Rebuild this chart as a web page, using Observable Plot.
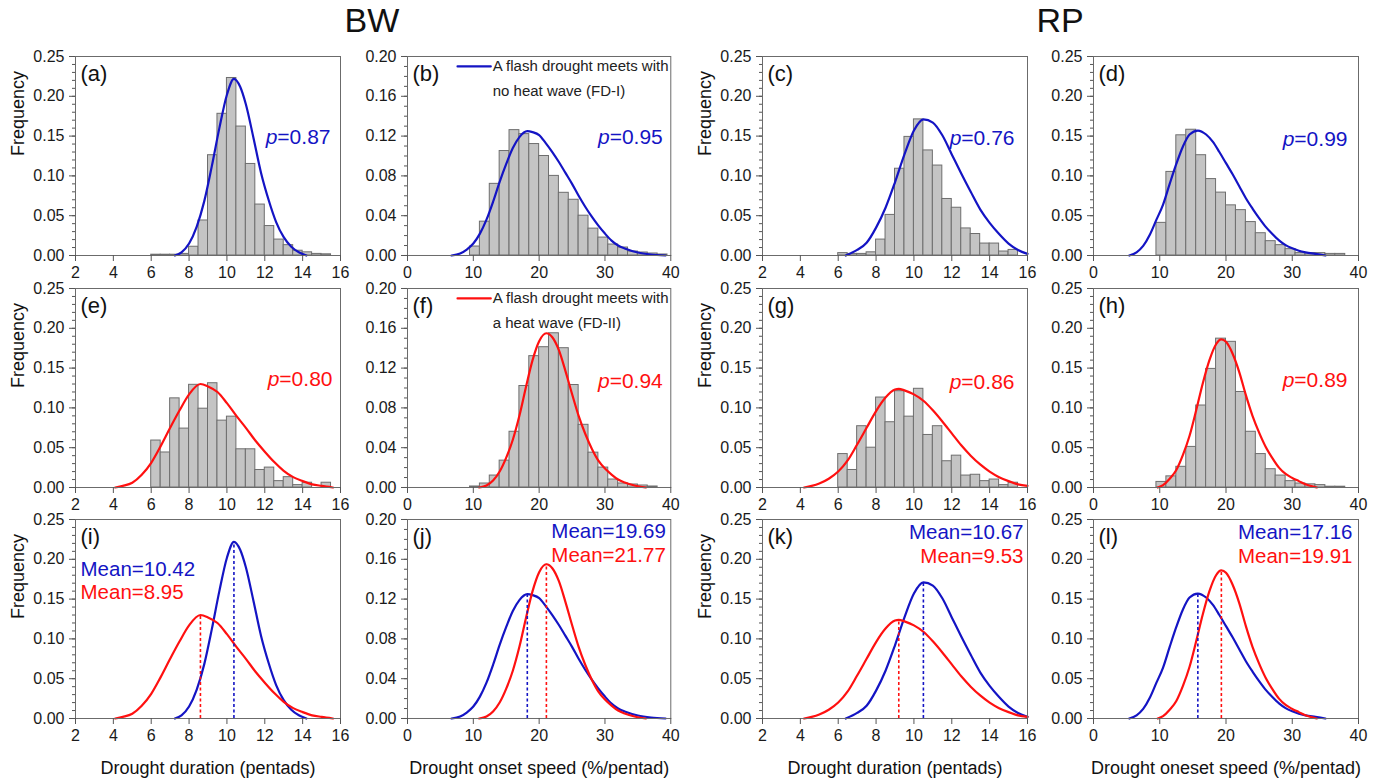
<!DOCTYPE html>
<html><head><meta charset="utf-8">
<script src="https://cdn.jsdelivr.net/npm/d3@7"></script>
<script src="https://cdn.jsdelivr.net/npm/@observablehq/plot@0.6"></script>
<style>
body{margin:0;background:#fff;}
#wrap{position:relative;width:1385px;height:780px;overflow:hidden;font-family:Arial,"Liberation Sans",sans-serif;background:#fff;}
.ttl{position:absolute;font-size:34px;color:#111;transform:translateX(-50%);top:3px;line-height:1;}
</style></head><body><div id="wrap">
<div class="ttl" style="left:372px">BW</div>
<div class="ttl" style="left:1060px">RP</div>
</div>
<script>
// ---------- data ----------
const durDomain = [2, 16];
const durTicks = [2, 4, 6, 8, 10, 12, 14, 16];
const speedDomain = [0, 40];
const speedTicks = [0, 10, 20, 30, 40];
const yTicks25 = [0, 0.05, 0.10, 0.15, 0.20, 0.25];
const yTicks20 = [0, 0.04, 0.08, 0.12, 0.16, 0.20];

const durBinStart = 6.0, durBinWidth = 0.5;
const speedBinStart = 9.5, speedBinWidth = 1.5;

const histA = [0.001,0.001,0.001,0.002,0.011,0.044,0.126,0.178,0.223,0.162,0.115,0.064,0.037,0.020,0.013,0.006,0.004,0.002,0.0015];
const histB = [0.009,0.034,0.072,0.105,0.126,0.122,0.112,0.100,0.080,0.063,0.056,0.040,0.027,0.018,0.011,0.008,0.004,0.003,0.002,0.001];
const histC = [0.003,0.002,0.002,0.004,0.020,0.051,0.109,0.149,0.171,0.132,0.113,0.071,0.060,0.034,0.027,0.015,0.015,0.005,0.007];
const histD = [0.041,0.105,0.151,0.158,0.126,0.096,0.079,0.063,0.057,0.042,0.028,0.018,0.013,0.008,0.003,0.003,0.003,0.002,0.002];
const histE = [0.059,0.044,0.112,0.074,0.129,0.099,0.131,0.084,0.089,0.048,0.048,0.022,0.025,0.008,0.013,0.003,0.006,0,0.006];
const histF = [0.001,0.004,0.012,0.027,0.056,0.102,0.132,0.141,0.155,0.140,0.103,0.063,0.035,0.020,0.008,0.004,0.003,0.002,0.001];
const histG = [0.042,0.022,0.077,0.050,0.113,0.082,0.121,0.089,0.124,0.066,0.077,0.033,0.040,0.015,0.016,0.008,0.010,0.003,0.006];
const histH = [0.007,0.014,0.026,0.051,0.103,0.149,0.187,0.183,0.120,0.070,0.042,0.023,0.015,0.008,0.005,0.004,0.003,0.001,0.001];

// fitted curves: [x, frequency]
const fitA = [[7.25,0],[7.6,0.004],[8.0,0.015],[8.4,0.036],[8.8,0.068],[9.2,0.112],[9.6,0.160],[10.0,0.202],[10.37,0.222],[10.7,0.212],[11.0,0.190],[11.4,0.148],[11.8,0.104],[12.2,0.070],[12.6,0.042],[13.0,0.023],[13.4,0.011],[13.8,0.004],[14.2,0]];
const fitB = [[6.7,0],[8,0.002],[9,0.006],[10,0.012],[11,0.022],[12,0.036],[13,0.054],[14,0.074],[15,0.092],[16,0.108],[17,0.119],[18.2,0.125],[19,0.124],[20,0.121],[21,0.113],[22,0.104],[23,0.094],[24,0.083],[25,0.072],[26,0.060],[27,0.049],[28,0.039],[29,0.030],[30,0.022],[31,0.015],[32,0.010],[33,0.007],[35,0.003],[37,0.001],[39.2,0]];
const fitC = [[6.4,0],[7.0,0.007],[7.5,0.016],[8.0,0.035],[8.5,0.060],[9.0,0.092],[9.5,0.127],[10.0,0.157],[10.5,0.171],[11.0,0.167],[11.5,0.151],[12.0,0.127],[12.5,0.103],[13.0,0.080],[13.5,0.058],[14.0,0.041],[14.5,0.027],[15.0,0.015],[15.5,0.007],[16.0,0.002]];
const fitD = [[5.4,0],[6.5,0.004],[7.5,0.012],[8.5,0.026],[9.5,0.045],[10.5,0.064],[11.5,0.090],[12.5,0.115],[13.5,0.137],[14.5,0.152],[15.75,0.157],[17,0.152],[18,0.143],[19,0.130],[20,0.116],[21,0.102],[22,0.087],[23,0.072],[24,0.059],[25,0.047],[26,0.036],[27,0.027],[28,0.019],[29,0.013],[30,0.009],[31,0.006],[32,0.004],[33.5,0.002],[35,0]];
const fitE = [[4.1,0],[4.5,0.002],[5.0,0.006],[5.5,0.016],[6.0,0.031],[6.5,0.052],[7.0,0.075],[7.5,0.097],[8.0,0.117],[8.6,0.130],[9.0,0.127],[9.5,0.120],[10.0,0.106],[10.5,0.090],[11.0,0.075],[11.5,0.059],[12.0,0.045],[12.5,0.032],[13.0,0.021],[13.5,0.013],[14.0,0.008],[14.5,0.004],[15.0,0.002],[15.6,0]];
const fitF = [[10.9,0],[12,0.002],[13,0.007],[14,0.016],[15,0.030],[16,0.048],[17,0.072],[18,0.101],[19,0.128],[20,0.147],[21.1,0.155],[22,0.151],[23,0.138],[24,0.117],[25,0.094],[26,0.072],[27,0.054],[28,0.039],[29,0.027],[30,0.019],[31,0.013],[32,0.008],[33,0.005],[34.5,0.002],[36.2,0]];
const fitG = [[4.2,0],[4.6,0.002],[5.0,0.005],[5.5,0.011],[6.0,0.020],[6.5,0.034],[7.0,0.054],[7.5,0.075],[8.0,0.096],[8.5,0.113],[9.0,0.123],[9.2,0.124],[9.5,0.122],[10.0,0.117],[10.5,0.109],[11.0,0.097],[11.5,0.083],[12.0,0.068],[12.5,0.053],[13.0,0.040],[13.5,0.029],[14.0,0.020],[14.5,0.013],[15.0,0.008],[15.5,0.004],[16.0,0.002]];
const fitH = [[9.7,0],[10.5,0.003],[11.5,0.011],[12.5,0.022],[13.5,0.041],[14.5,0.065],[15.5,0.097],[16.5,0.131],[17.5,0.160],[18.5,0.180],[19.3,0.186],[20,0.183],[21,0.168],[22,0.145],[23,0.116],[24,0.090],[25,0.069],[26,0.051],[27,0.037],[28,0.025],[29,0.017],[30,0.012],[31,0.008],[32,0.004],[33.7,0]];

const pValues = ["0.87","0.95","0.76","0.99","0.80","0.94","0.86","0.89"];
const meanValues = ["10.42","8.95","19.69","21.77","10.67","9.53","17.16","19.91"];
const legendFD1 = ["A flash drought meets with", "no heat wave (FD-I)"];
const legendFD2 = ["A flash drought meets with", "a heat wave (FD-II)"];
const xTitles = ["Drought duration (pentads)", "Drought onset speed (%/pentad)", "Drought duration (pentads)", "Drought oneset speed (%/pentad)"];

// ---------- layout ----------
const BLUE = "#1414c4", RED = "#ff1010";
const colLeft = [75, 406.7, 761.7, 1093.3];
const colRight = [340, 670, 1026.7, 1358.3];
const rowTop = [56, 287.7, 519.3];
const rowBottom = [255, 486.7, 718.3];

const panels = [
  {id:"(a)", col:0, row:0, kind:"dur", yMax:0.25, hist:histA, fits:[[fitA,BLUE]], p:pValues[0], pc:BLUE, pdx:-10, pdy:81},
  {id:"(b)", col:1, row:0, kind:"speed", yMax:0.20, hist:histB, fits:[[fitB,BLUE]], p:pValues[1], pc:BLUE, pdx:-8, pdy:81, legend:legendFD1, lc:BLUE},
  {id:"(c)", col:2, row:0, kind:"dur", yMax:0.25, hist:histC, fits:[[fitC,BLUE]], p:pValues[2], pc:BLUE, pdx:-13, pdy:82},
  {id:"(d)", col:3, row:0, kind:"speed", yMax:0.25, hist:histD, fits:[[fitD,BLUE]], p:pValues[3], pc:BLUE, pdx:-11, pdy:83},
  {id:"(e)", col:0, row:1, kind:"dur", yMax:0.25, hist:histE, fits:[[fitE,RED]], p:pValues[4], pc:RED, pdx:-8, pdy:91},
  {id:"(f)", col:1, row:1, kind:"speed", yMax:0.20, hist:histF, fits:[[fitF,RED]], p:pValues[5], pc:RED, pdx:-8, pdy:93, legend:legendFD2, lc:RED},
  {id:"(g)", col:2, row:1, kind:"dur", yMax:0.25, hist:histG, fits:[[fitG,RED]], p:pValues[6], pc:RED, pdx:-13, pdy:94},
  {id:"(h)", col:3, row:1, kind:"speed", yMax:0.25, hist:histH, fits:[[fitH,RED]], p:pValues[7], pc:RED, pdx:-11, pdy:92},
  {id:"(i)", col:0, row:2, kind:"dur", yMax:0.25, fits:[[fitA,BLUE],[fitE,RED]], means:[meanValues[0],meanValues[1]], mAnchor:"left", mdx:5, mdy:[50,73]},
  {id:"(j)", col:1, row:2, kind:"speed", yMax:0.20, fits:[[fitB,BLUE],[fitF,RED]], means:[meanValues[2],meanValues[3]], mAnchor:"right", mdx:-5, mdy:[12,36]},
  {id:"(k)", col:2, row:2, kind:"dur", yMax:0.25, fits:[[fitC,BLUE],[fitG,RED]], means:[meanValues[4],meanValues[5]], mAnchor:"right", mdx:-4, mdy:[13,37]},
  {id:"(l)", col:3, row:2, kind:"speed", yMax:0.25, fits:[[fitD,BLUE],[fitH,RED]], means:[meanValues[6],meanValues[7]], mAnchor:"right", mdx:-6, mdy:[13,37]}
];

const wrap = document.getElementById("wrap");

function bins(vals, start, w) {
  return vals.map((v, i) => ({x1: start + i * w, x2: start + (i + 1) * w, v}));
}

for (const cfg of panels) {
  const dur = cfg.kind === "dur";
  const W = colRight[cfg.col] - colLeft[cfg.col];
  const H = rowBottom[cfg.row] - rowTop[cfg.row];
  const ML = 72, MR = 16, MT = 16, MB = cfg.row === 2 ? 66 : 34;
  const yMajor = cfg.yMax === 0.25 ? yTicks25 : yTicks20;
  const yMinor = d3.range(0, Math.round(cfg.yMax * 100) + 1).map(k => k / 100);
  const marks = [];
  if (cfg.hist) {
    const data = dur ? bins(cfg.hist, durBinStart, durBinWidth) : bins(cfg.hist, speedBinStart, speedBinWidth);
    marks.push(Plot.rect(data, {x1: "x1", x2: "x2", y1: 0, y2: "v", fill: "#c4c4c4", stroke: "#6e6e6e", strokeWidth: 1}));
  }
  for (const [pts, color] of cfg.fits) {
    marks.push(Plot.line(pts, {x: d => d[0], y: d => d[1], stroke: color, strokeWidth: 2.2, curve: "monotone-x"}));
  }
  if (cfg.means) {
    for (const [pts, color] of cfg.fits) {
      const peak = pts.reduce((a, b) => (b[1] > a[1] ? b : a));
      marks.push(Plot.ruleX([peak], {x: d => d[0], y1: 0, y2: d => d[1], stroke: color, strokeWidth: 1.6, strokeDasharray: "3,2.5"}));
    }
  }
  marks.push(Plot.frame({stroke: "#6b6b6b", strokeWidth: 1}));
  marks.push(Plot.axisY(yMinor, {tickSize: 3, tickFormat: () => "", label: null, stroke: "#555"}));
  marks.push(Plot.axisY(yMajor, {tickSize: 6, tickPadding: 5, tickFormat: d3.format(".2f"), fontSize: 16, label: null, stroke: "#555"}));
  marks.push(Plot.axisX(dur ? durTicks : speedTicks, {tickSize: 6, tickPadding: 5, fontSize: 16, label: null, stroke: "#555"}));
  marks.push(Plot.text([cfg.id], {frameAnchor: "top-left", dx: 5, dy: 9, textAnchor: "start", lineAnchor: "top", fontSize: 22, fill: "#111"}));
  if (cfg.col === 0 || cfg.col === 2) {
    marks.push(Plot.text(["Frequency"], {frameAnchor: "left", dx: -57, rotate: -90, fontSize: 18, fill: "#111"}));
  }
  if (cfg.p) {
    marks.push(Plot.text(["p=" + cfg.p], {frameAnchor: "top-right", dx: cfg.pdx, dy: cfg.pdy, textAnchor: "end", lineAnchor: "middle", fontSize: 21, fill: cfg.pc}));
  }
  if (cfg.legend) {
    marks.push(Plot.line([[7.6, 0.190], [12.65, 0.190]], {x: d => d[0], y: d => d[1], stroke: cfg.lc, strokeWidth: 2.2}));
    marks.push(Plot.text(cfg.legend, {x: () => 12.95, y: (d, i) => (i === 0 ? 0.190 : 0.1655), textAnchor: "start", lineAnchor: "middle", fontSize: 15, fill: "#222"}));
  }
  if (cfg.means) {
    const colors = [BLUE, RED];
    cfg.means.forEach((m, i) => {
      marks.push(Plot.text(["Mean=" + m], {frameAnchor: cfg.mAnchor === "left" ? "top-left" : "top-right", dx: cfg.mdx, dy: cfg.mdy[i], textAnchor: cfg.mAnchor === "left" ? "start" : "end", lineAnchor: "middle", fontSize: 20.5, fill: colors[i]}));
    });
    marks.push(Plot.text([xTitles[cfg.col]], {frameAnchor: "bottom", dy: 50, lineAnchor: "middle", fontSize: 18, fill: "#111"}));
  }
  const svg = Plot.plot({
    width: ML + W + MR,
    height: MT + H + MB,
    marginLeft: ML, marginRight: MR, marginTop: MT, marginBottom: MB,
    x: {domain: dur ? durDomain : speedDomain},
    y: {domain: [0, cfg.yMax]},
    style: {fontFamily: "Arial, 'Liberation Sans', sans-serif", fontSize: "16px", color: "#1a1a1a", background: "transparent", overflow: "visible"},
    marks
  });
  svg.style.position = "absolute";
  svg.style.left = (colLeft[cfg.col] - ML) + "px";
  svg.style.top = (rowTop[cfg.row] - MT) + "px";
  svg.querySelectorAll("text").forEach(t => {
    const s = t.textContent;
    if (/^p=/.test(s)) {
      t.textContent = "";
      const a = document.createElementNS("http://www.w3.org/2000/svg", "tspan");
      a.setAttribute("font-style", "italic");
      a.textContent = "p";
      const b = document.createElementNS("http://www.w3.org/2000/svg", "tspan");
      b.textContent = s.slice(1);
      t.appendChild(a); t.appendChild(b);
    }
  });
  wrap.appendChild(svg);
}
</script></body></html>
